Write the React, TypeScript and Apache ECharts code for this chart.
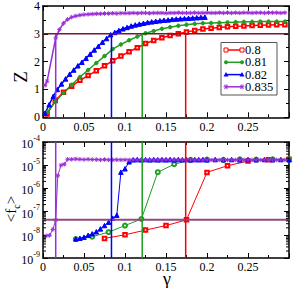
import React, { useEffect, useRef } from "react";
import * as echarts from "echarts";

const FONT = "Liberation Serif";

const gammaRange = [0, 0.3];
const gammaInterval = 0.05;
const zRange = [0, 4];
const fRange = [1e-9, 1e-4];
const seriesNames = ["0.8", "0.81", "0.82", "0.835"];
const colors = ["#ff0000", "#1f9e1f", "#0000ff", "#9a2fd6"];
const zThreshold = 3;
const fThreshold = 4.4e-8;
const gammaC = [0.174, 0.121, 0.0835, 0.0155];

// Top panel: Z vs gamma
const zRed = [[0.005,0.12],[0.015,0.6],[0.025,0.9],[0.035,1.12],[0.045,1.33],[0.055,1.5],[0.065,1.67],[0.075,1.85],[0.085,2.03],[0.095,2.2],[0.105,2.36],[0.115,2.5],[0.125,2.65],[0.135,2.76],[0.145,2.86],[0.155,2.94],[0.165,3.0],[0.175,3.07],[0.185,3.12],[0.195,3.17],[0.205,3.2],[0.215,3.23],[0.225,3.25],[0.235,3.27],[0.245,3.28],[0.255,3.3],[0.265,3.31],[0.275,3.32],[0.285,3.33],[0.295,3.33]];
const zGreen = [[0.005,0.17],[0.015,0.56],[0.025,0.88],[0.035,1.17],[0.045,1.45],[0.055,1.7],[0.065,1.95],[0.075,2.2],[0.085,2.45],[0.095,2.62],[0.105,2.77],[0.115,2.9],[0.125,3.02],[0.135,3.1],[0.145,3.18],[0.155,3.24],[0.165,3.29],[0.175,3.33],[0.185,3.36],[0.195,3.38],[0.205,3.39],[0.215,3.4],[0.225,3.41],[0.235,3.42],[0.245,3.43],[0.255,3.43],[0.265,3.44],[0.275,3.44],[0.285,3.44],[0.295,3.44]];
const zBlue = [[0.0025,0.15],[0.0075,0.45],[0.0125,0.75],[0.0175,1.0],[0.0225,1.2],[0.0275,1.38],[0.0325,1.55],[0.0375,1.7],[0.0425,1.85],[0.0475,1.98],[0.0525,2.12],[0.0575,2.27],[0.0625,2.42],[0.0675,2.55],[0.0725,2.7],[0.0775,2.83],[0.0825,2.97],[0.0875,3.05],[0.0925,3.12],[0.0975,3.18],[0.1025,3.23],[0.1075,3.28],[0.1125,3.32],[0.1175,3.35],[0.1225,3.38],[0.1275,3.41],[0.1325,3.43],[0.1375,3.45],[0.1425,3.47],[0.1475,3.49],[0.1525,3.5],[0.1575,3.52],[0.1625,3.53],[0.1675,3.54],[0.1725,3.55],[0.1775,3.56],[0.1825,3.57],[0.1875,3.58],[0.1925,3.59],[0.1975,3.6]];
const zPurple = [[0.0025,1.15],[0.005,1.3],[0.0155,2.85],[0.02,3.15],[0.025,3.38],[0.03,3.52],[0.035,3.6],[0.04,3.64],[0.045,3.67],[0.05,3.69],[0.055,3.7],[0.06,3.71],[0.065,3.72],[0.07,3.72],[0.075,3.73],[0.08,3.73],[0.085,3.74],[0.09,3.73],[0.095,3.74],[0.1,3.74],[0.105,3.74],[0.11,3.75],[0.115,3.74],[0.12,3.75],[0.125,3.75],[0.13,3.74],[0.135,3.75],[0.14,3.75],[0.145,3.75],[0.15,3.74],[0.155,3.75],[0.16,3.75],[0.165,3.76],[0.17,3.75],[0.175,3.75],[0.18,3.75],[0.185,3.76],[0.19,3.75],[0.195,3.75],[0.2,3.76],[0.205,3.75],[0.21,3.75],[0.215,3.76],[0.22,3.75],[0.225,3.76],[0.23,3.75],[0.235,3.76],[0.24,3.75],[0.245,3.76],[0.25,3.76],[0.255,3.75],[0.26,3.76],[0.265,3.76],[0.27,3.75],[0.275,3.76],[0.28,3.76],[0.285,3.76],[0.29,3.75],[0.295,3.76]];

// Bottom panel: <f_c> vs gamma
const fRed = [[0.075,7e-9],[0.1,1e-8],[0.125,1.6e-8],[0.15,2.5e-8],[0.175,4.4e-8],[0.2,4.9e-6],[0.225,9.5e-6],[0.25,1.5e-5],[0.275,1.7e-5],[0.3,1.8e-5]];
const fGreen = [[0.04,6.6e-9],[0.06,8.3e-9],[0.08,1.3e-8],[0.1,2.5e-8],[0.12,4.8e-8],[0.14,5e-6],[0.16,1.1e-5],[0.18,1.7e-5],[0.2,1.75e-5],[0.22,1.7e-5],[0.24,1.8e-5],[0.26,1.75e-5],[0.28,1.8e-5],[0.3,1.75e-5]];
const fBlue = [[0.04,6.6e-9],[0.045,7.1e-9],[0.05,7.9e-9],[0.055,9.5e-9],[0.06,1.1e-8],[0.065,1.35e-8],[0.07,1.8e-8],[0.075,2.5e-8],[0.08,3.5e-8],[0.085,5.2e-8],[0.09,7e-8],[0.095,5e-6],[0.1,7e-6],[0.105,1.4e-5],[0.11,1.7e-5],[0.115,1.75e-5],[0.12,1.7e-5],[0.125,1.75e-5],[0.13,1.7e-5],[0.135,1.75e-5],[0.14,1.7e-5],[0.145,1.75e-5],[0.15,1.7e-5],[0.155,1.75e-5],[0.16,1.7e-5],[0.165,1.75e-5],[0.17,1.72e-5],[0.175,1.75e-5],[0.18,1.7e-5],[0.185,1.75e-5],[0.19,1.72e-5],[0.195,1.75e-5],[0.2,1.7e-5],[0.21,1.75e-5],[0.22,1.72e-5],[0.23,1.75e-5],[0.24,1.7e-5],[0.25,1.75e-5],[0.26,1.72e-5],[0.27,1.75e-5],[0.28,1.72e-5],[0.29,1.75e-5],[0.3,1.72e-5]];
const fPurple = [[0.004,9e-9],[0.008,9.5e-9],[0.012,1.7e-8],[0.0155,4.3e-8],[0.018,3.5e-6],[0.022,1.0e-5],[0.026,1.1e-5],[0.03,1.8e-5],[0.035,1.8e-5],[0.04,1.85e-5],[0.045,1.8e-5],[0.05,1.75e-5],[0.055,1.8e-5],[0.06,1.75e-5],[0.065,1.75e-5],[0.07,1.7e-5],[0.075,1.75e-5],[0.08,1.7e-5],[0.085,1.7e-5],[0.09,1.72e-5],[0.095,1.7e-5],[0.1,1.7e-5],[0.105,1.68e-5],[0.11,1.7e-5],[0.115,1.68e-5],[0.12,1.7e-5],[0.125,1.68e-5],[0.13,1.7e-5],[0.135,1.68e-5],[0.14,1.7e-5],[0.145,1.68e-5],[0.15,1.7e-5],[0.155,1.68e-5],[0.16,1.7e-5],[0.165,1.68e-5],[0.17,1.7e-5],[0.175,1.68e-5],[0.18,1.7e-5],[0.185,1.68e-5],[0.19,1.7e-5],[0.195,1.68e-5],[0.2,1.7e-5],[0.205,1.68e-5],[0.21,1.7e-5],[0.215,1.68e-5],[0.22,1.7e-5],[0.225,1.68e-5],[0.23,1.7e-5],[0.235,1.68e-5],[0.24,1.7e-5],[0.245,1.68e-5],[0.25,1.7e-5],[0.255,1.68e-5],[0.26,1.7e-5],[0.265,1.68e-5],[0.27,1.7e-5],[0.275,1.68e-5],[0.28,1.7e-5],[0.285,1.68e-5],[0.29,1.7e-5],[0.295,1.68e-5]];

const logDecades = [-9, -8, -7, -6, -5];
const logMinorMantissas = [2, 3, 4, 5, 6, 7, 8, 9];

const STAR = "path://M5,0L5,10M0,5L10,5M1.5,1.5L8.5,8.5M8.5,1.5L1.5,8.5";
const symbols = ["emptyRect", "circle", "triangle", STAR];
const symbolSizesTop = [3.5, 3.5, 4.5, 4.5];
const symbolSizesBottom = [3.5, 4, 4.5, 4.5];

function axisBase(extra: any) {
  return {
    axisLine: { show: true, onZero: false, lineStyle: { color: "#000", width: 1.5 } },
    axisTick: { show: true, inside: true, length: 5, lineStyle: { color: "#000", width: 1 } },
    splitLine: { show: false },
    ...extra,
  };
}

export default function App() {
  const ref = useRef<HTMLDivElement>(null);
  useEffect(() => {
    if (!ref.current) return;
    const chart = echarts.init(ref.current, null, { renderer: "svg" });

    const xCommon = (grid: number, pos: string, labels: boolean, margin: number) =>
      axisBase({
        type: "value",
        gridIndex: grid,
        position: pos,
        min: gammaRange[0],
        max: gammaRange[1],
        interval: gammaInterval,
        minorTick: { show: true, splitNumber: 2, length: 3, lineStyle: { color: "#000", width: 1 } },
        axisLabel: {
          show: labels,
          fontFamily: FONT,
          fontSize: 12,
          color: "#000",
          margin,
          formatter: (v: number) => (v >= gammaRange[1] - 1e-9 ? "" : String(v)),
        },
      });

    const yTop = (pos: string, labels: boolean) =>
      axisBase({
        type: "value",
        gridIndex: 0,
        position: pos,
        min: zRange[0],
        max: zRange[1],
        interval: 1,
        minorTick: { show: true, splitNumber: 2, length: 3, lineStyle: { color: "#000", width: 1 } },
        axisLabel: { show: labels, fontFamily: FONT, fontSize: 12, color: "#000", margin: 3 },
      });

    const yBot = (pos: string, labels: boolean) =>
      axisBase({
        type: "log",
        logBase: 10,
        gridIndex: 1,
        position: pos,
        min: fRange[0],
        max: fRange[1],
        splitNumber: 5,
        minorTick: { show: false },
        axisLabel: {
          show: labels,
          interval: 0,
          margin: 3,
          formatter: (v: number) => `{b|10}{s|${Math.round(Math.log10(v))}}`,
          rich: {
            b: { fontFamily: FONT, fontSize: 12, color: "#000", lineHeight: 16, verticalAlign: "bottom" },
            s: { fontFamily: FONT, fontSize: 8, color: "#000", verticalAlign: "top" },
          },
        },
      });

    const topData = [zRed, zGreen, zBlue, zPurple];
    const botData = [fRed, fGreen, fBlue, fPurple];

    const series: any[] = [];
    topData.forEach((d, i) => {
      series.push({
        type: "line",
        name: seriesNames[i],
        xAxisIndex: 0,
        yAxisIndex: 0,
        data: d,
        symbol: symbols[i],
        symbolSize: symbolSizesTop[i],
        lineStyle: { color: colors[i], width: 1.5 },
        itemStyle: { color: colors[i], borderColor: colors[i], borderWidth: 1 },
        z: 3,
      });
    });
    botData.forEach((d, i) => {
      series.push({
        type: "line",
        name: seriesNames[i] + " f",
        xAxisIndex: 2,
        yAxisIndex: 2,
        data: d,
        symbol: i === 1 ? "emptyCircle" : symbols[i],
        symbolSize: symbolSizesBottom[i],
        lineStyle: { color: colors[i], width: 1 },
        itemStyle: { color: colors[i], borderColor: colors[i], borderWidth: 1 },
        z: 3,
      });
    });
    // threshold lines
    series.push({
      type: "line", xAxisIndex: 0, yAxisIndex: 0, symbol: "none", silent: true, z: 4,
      data: [[gammaRange[0], zThreshold], [gammaRange[1], zThreshold]],
      lineStyle: { color: "#7a1535", width: 1.5 },
    });
    series.push({
      type: "line", xAxisIndex: 2, yAxisIndex: 2, symbol: "none", silent: true, z: 4,
      data: [[gammaRange[0], fThreshold], [gammaRange[1], fThreshold]],
      lineStyle: { color: "#8e4a86", width: 2 },
    });
    gammaC.forEach((g, i) => {
      series.push({
        type: "line", xAxisIndex: 0, yAxisIndex: 0, symbol: "none", silent: true, z: 4,
        data: [[g, zRange[0]], [g, zThreshold]],
        lineStyle: { color: colors[i], width: 1.5 },
      });
      series.push({
        type: "line", xAxisIndex: 2, yAxisIndex: 2, symbol: "none", silent: true, z: 4,
        data: [[g, fRange[0]], [g, fRange[1]]],
        lineStyle: { color: colors[i], width: 1.5 },
      });
    });
    // log minor ticks on both side axes of the bottom panel
    const minorVals: number[][] = [];
    logDecades.forEach((e) => logMinorMantissas.forEach((m) => minorVals.push([gammaRange[0], m * Math.pow(10, e)])));
    series.push({
      type: "custom",
      xAxisIndex: 2,
      yAxisIndex: 2,
      silent: true,
      clip: false,
      z: 10,
      data: minorVals,
      encode: { x: 0, y: 1 },
      renderItem: (params: any, api: any) => {
        const v = api.value(1);
        const l = api.coord([gammaRange[0], v]);
        const r = api.coord([gammaRange[1], v]);
        return {
          type: "group",
          children: [
            { type: "line", shape: { x1: l[0], y1: l[1], x2: l[0] + 3, y2: l[1] }, style: { stroke: "#000", lineWidth: 1 } },
            { type: "line", shape: { x1: r[0] - 3, y1: r[1], x2: r[0], y2: r[1] }, style: { stroke: "#000", lineWidth: 1 } },
          ],
        };
      },
    });

    // legend graphic
    const legendChildren: any[] = [
      { type: "rect", shape: { x: 221, y: 42.5, width: 56, height: 52.5 }, style: { fill: "#fff", stroke: "#555", lineWidth: 1 } },
    ];
    const rowsY = [50, 62.3, 74.6, 86.8];
    const mk = (i: number, cx: number, cy: number) => {
      const c = colors[i];
      if (i === 0) return { type: "rect", shape: { x: cx - 2, y: cy - 2, width: 4, height: 4 }, style: { fill: "#fff", stroke: c, lineWidth: 1 } };
      if (i === 1) return { type: "circle", shape: { cx, cy, r: 2 }, style: { fill: c } };
      if (i === 2) return { type: "polygon", shape: { points: [[cx, cy - 2.5], [cx + 2.5, cy + 2], [cx - 2.5, cy + 2]] }, style: { fill: c } };
      return {
        type: "group",
        children: [
          { type: "line", shape: { x1: cx - 2.5, y1: cy, x2: cx + 2.5, y2: cy }, style: { stroke: c, lineWidth: 1 } },
          { type: "line", shape: { x1: cx, y1: cy - 2.5, x2: cx, y2: cy + 2.5 }, style: { stroke: c, lineWidth: 1 } },
          { type: "line", shape: { x1: cx - 1.8, y1: cy - 1.8, x2: cx + 1.8, y2: cy + 1.8 }, style: { stroke: c, lineWidth: 1 } },
          { type: "line", shape: { x1: cx + 1.8, y1: cy - 1.8, x2: cx - 1.8, y2: cy + 1.8 }, style: { stroke: c, lineWidth: 1 } },
        ],
      };
    };
    seriesNames.forEach((n, i) => {
      const y = rowsY[i];
      legendChildren.push({ type: "line", shape: { x1: 226, y1: y, x2: 242, y2: y }, style: { stroke: colors[i], lineWidth: 1.5 } });
      legendChildren.push(mk(i, 226, y));
      legendChildren.push(mk(i, 242, y));
      legendChildren.push({
        type: "text", x: 245, y,
        style: { text: n, fontFamily: FONT, fontSize: 12.5, fill: "#000", align: "left", verticalAlign: "middle" },
      });
    });

    chart.setOption({
      animation: false,
      backgroundColor: "#fff",
      grid: [
        { left: 43, right: 2, top: 4.5, height: 112.8 },
        { left: 43, right: 2, top: 142, height: 116 },
      ],
      xAxis: [
        xCommon(0, "bottom", true, 4),
        xCommon(0, "top", false, 4),
        xCommon(1, "bottom", true, 3),
        xCommon(1, "top", false, 3),
      ],
      yAxis: [yTop("left", true), yTop("right", false), yBot("left", true), yBot("right", false)],
      series,
      graphic: [
        { type: "group", z: 100, children: legendChildren },
        {
          type: "text", x: 20, y: 77, rotation: Math.PI / 2, z: 100,
          style: { text: "Z", fontFamily: FONT, fontSize: 19, fill: "#000", align: "center", verticalAlign: "middle" },
        },
        {
          type: "text", x: 11, y: 209, rotation: Math.PI / 2, z: 100,
          style: {
            text: "{a|<f}{c|c}{a|>}",
            align: "center",
            verticalAlign: "middle",
            rich: {
              a: { fontFamily: FONT, fontSize: 15, fill: "#000", lineHeight: 20, verticalAlign: "middle" },
              c: { fontFamily: FONT, fontSize: 10, fill: "#000", verticalAlign: "bottom" },
            },
          },
        },
        {
          type: "text", x: 167, y: 279, z: 100,
          style: { text: "γ", fontFamily: FONT, fontSize: 18, fill: "#000", align: "center", verticalAlign: "middle" },
        },
      ],
    });
    return () => chart.dispose();
  }, []);
  return <div ref={ref} style={{ width: 292, height: 288, position: "absolute", left: 0, top: 0 }} />;
}
